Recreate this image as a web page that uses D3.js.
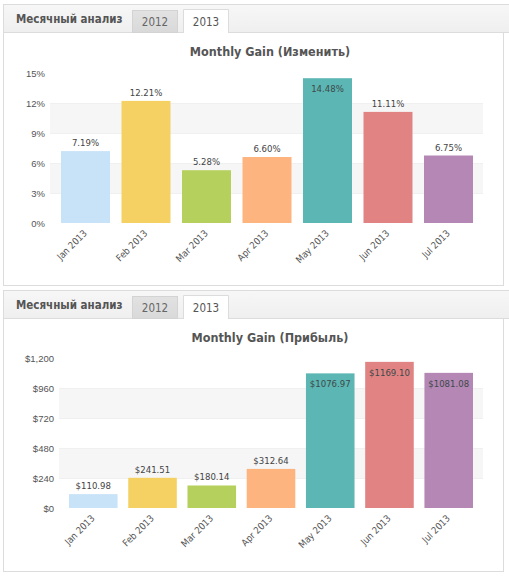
<!DOCTYPE html>
<html>
<head>
<meta charset="utf-8">
<script src="https://cdn.jsdelivr.net/npm/d3@7"></script>
<style>
  html, body { margin: 0; padding: 0; background: #fff; }
  svg { display: block; font-family: "DejaVu Sans Condensed", "DejaVu Sans", Tahoma, sans-serif; }
</style>
</head>
<body>
<div id="chart"></div>
<script>
// --- данные ---
const months = ['Jan 2013', 'Feb 2013', 'Mar 2013', 'Apr 2013', 'May 2013', 'Jun 2013', 'Jul 2013'];
const gainPct = [7.19, 12.21, 5.28, 6.60, 14.48, 11.11, 6.75];
const gainUsd = [110.98, 241.51, 180.14, 312.64, 1076.97, 1169.10, 1081.08];
const pctTicks = [0, 3, 6, 9, 12, 15];
const usdTicks = [0, 240, 480, 720, 960, 1200];
const barColors = ['#c8e3f8', '#f5d163', '#b5d05c', '#fdb47f', '#5cb6b3', '#e28383', '#b487b5'];
const tabLabels = ['2012', '2013'];
const panelTitle = 'Месячный анализ';

const W = 509, H = 576;
const svg = d3.select('#chart').append('svg')
  .attr('width', W).attr('height', H);

const defs = svg.append('defs');
const g1 = defs.append('linearGradient').attr('id', 'tabOff').attr('x1', 0).attr('y1', 0).attr('x2', 0).attr('y2', 1);
g1.append('stop').attr('offset', '0%').attr('stop-color', '#e2e2e2');
g1.append('stop').attr('offset', '100%').attr('stop-color', '#d9d9d9');
const g2 = defs.append('linearGradient').attr('id', 'hdr').attr('x1', 0).attr('y1', 0).attr('x2', 0).attr('y2', 1);
g2.append('stop').attr('offset', '0%').attr('stop-color', '#f7f7f7');
g2.append('stop').attr('offset', '100%').attr('stop-color', '#efefef');

// панель с вкладками
function drawPanel(top, bottom) {
  const hdrH = 28;
  svg.append('rect').attr('x', 3.5).attr('y', top + 0.5).attr('width', 500).attr('height', bottom - top)
    .attr('fill', '#fff').attr('stroke', '#dcdcdc');
  svg.append('rect').attr('x', 3.5).attr('y', top + 0.5).attr('width', 520).attr('height', hdrH)
    .attr('fill', 'url(#hdr)').attr('stroke', '#dcdcdc');
  svg.append('text').attr('x', 16).attr('y', top + 19)
    .attr('font-size', 11.5).attr('font-weight', 'bold').attr('fill', '#555')
    .text(panelTitle);
  // 2012 - неактивная
  svg.append('rect').attr('x', 132.5).attr('y', top + 6.5).attr('width', 45).attr('height', hdrH - 6)
    .attr('fill', 'url(#tabOff)').attr('stroke', '#d3d3d3');
  svg.append('text').attr('x', 155).attr('y', top + 22).attr('text-anchor', 'middle')
    .attr('font-size', 11.5).attr('fill', '#666').text(tabLabels[0]);
  // 2013 - активная
  svg.append('path')
    .attr('d', `M183.5,${top + hdrH + 1}V${top + 5.5}H228.5V${top + hdrH + 1}`)
    .attr('fill', '#fff').attr('stroke', '#dcdcdc');
  svg.append('rect').attr('x', 184).attr('y', top + hdrH - 1).attr('width', 44).attr('height', 3).attr('fill', '#fff');
  svg.append('text').attr('x', 206).attr('y', top + 22).attr('text-anchor', 'middle')
    .attr('font-size', 11.5).attr('fill', '#555').text(tabLabels[1]);
}

function drawChart(cfg) {
  const { values, ticks, y0, y1, xLeft, bandLeft, bandRight, title, titleY, fmt, tickFmt, padInner } = cfg;
  const g = svg.append('g');
  const y = d3.scaleLinear().domain([ticks[0], ticks[ticks.length - 1]]).range([y0, y1]);
  const x = d3.scaleBand().domain(months).range([bandLeft, bandRight]).paddingInner(padInner).paddingOuter(0);

  // чередующиеся полосы фона
  for (let i = 0; i < ticks.length - 1; i++) {
    if (i % 2 === 1) {
      g.append('rect').attr('x', xLeft).attr('width', 483 - xLeft)
        .attr('y', y(ticks[i + 1])).attr('height', y(ticks[i]) - y(ticks[i + 1]))
        .attr('fill', '#f6f6f6');
    }
  }
  g.selectAll('line.grid').data(ticks.slice(1, -1)).join('line').attr('class', 'grid')
    .attr('x1', xLeft).attr('x2', 483)
    .attr('y1', d => Math.round(y(d)) + 0.5).attr('y2', d => Math.round(y(d)) + 0.5)
    .attr('stroke', '#f0f0f0');

  g.append('text').attr('x', 270).attr('y', titleY).attr('text-anchor', 'middle')
    .attr('font-size', 12.5).attr('font-weight', 'bold').attr('fill', '#555').text(title);

  const yAxis = g.append('g').attr('transform', `translate(${xLeft},0)`)
    .call(d3.axisLeft(y).tickValues(ticks).tickSize(0).tickPadding(5).tickFormat(tickFmt));
  yAxis.select('.domain').remove();
  yAxis.selectAll('text').attr('font-size', 9.5).attr('fill', '#555').attr('font-family', null);

  g.selectAll('rect.bar').data(values).join('rect').attr('class', 'bar')
    .attr('x', (d, i) => x(months[i]))
    .attr('width', x.bandwidth())
    .attr('y', d => y(d))
    .attr('height', d => y0 - y(d))
    .attr('fill', (d, i) => barColors[i]);

  g.selectAll('text.val').data(values).join('text').attr('class', 'val')
    .attr('x', (d, i) => x(months[i]) + x.bandwidth() / 2)
    .attr('y', d => (y(d) - 17 < y1) ? y(d) + 14 : y(d) - 5)
    .attr('text-anchor', 'middle')
    .attr('font-size', 9.5)
    .attr('fill', d => (y(d) - 17 < y1) ? '#3c4a4a' : '#444')
    .text(fmt);

  g.selectAll('text.xl').data(months).join('text').attr('class', 'xl')
    .attr('transform', d => `translate(${x(d) + x.bandwidth() / 2 + 2},${y0 + 11}) rotate(-45)`)
    .attr('text-anchor', 'end')
    .attr('font-size', 9.5)
    .attr('fill', '#555')
    .text(d => d);
}

drawPanel(4, 285);
drawChart({
  values: gainPct, ticks: pctTicks, y0: 223, y1: 73,
  xLeft: 50, bandLeft: 61, bandRight: 473, padInner: 0.19,
  title: 'Monthly Gain (Изменить)', titleY: 56,
  fmt: d => d.toFixed(2) + '%', tickFmt: d => d + '%'
});

drawPanel(290, 571);
drawChart({
  values: gainUsd, ticks: usdTicks, y0: 508, y1: 358,
  xLeft: 59, bandLeft: 69, bandRight: 473, padInner: 0.18,
  title: 'Monthly Gain (Прибыль)', titleY: 342,
  fmt: d => '$' + d.toFixed(2), tickFmt: d => '$' + d3.format(',')(d)
});
</script>
</body>
</html>
